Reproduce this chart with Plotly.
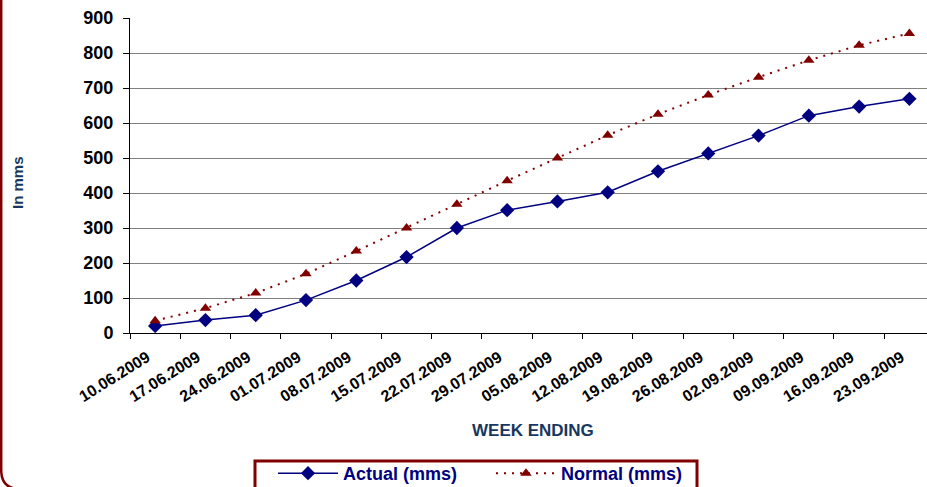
import plotly.graph_objects as go

weeks = ["10.06.2009", "17.06.2009", "24.06.2009", "01.07.2009", "08.07.2009",
         "15.07.2009", "22.07.2009", "29.07.2009", "05.08.2009", "12.08.2009",
         "19.08.2009", "26.08.2009", "02.09.2009", "09.09.2009", "16.09.2009",
         "23.09.2009"]
actual = [20, 37, 51, 94, 150, 217, 300, 351, 376, 402, 462, 513, 564, 621, 647, 669]
normal = [35, 71, 114, 169, 234, 300, 368, 435, 500, 565, 625, 680, 731, 779, 822, 856]
y_ticks = [0, 100, 200, 300, 400, 500, 600, 700, 800, 900]

W, H = 927, 487
L, R, T, B = 130, 0, 18, 154
PW, PH = W - L - R, H - T - B

def px(x):
    return (x - L) / PW

def py(y):
    return (H - B - y) / PH

FONT = "Liberation Sans, Arial, sans-serif"

fig = go.Figure()
fig.add_trace(go.Scatter(
    x=weeks, y=actual, name="Actual (mms)", mode="lines+markers",
    line=dict(color="#000080", width=1.5),
    marker=dict(symbol="diamond", size=11, color="#000080"),
))
fig.add_trace(go.Scatter(
    x=weeks, y=normal, name="Normal (mms)", mode="lines+markers",
    line=dict(color="#800000", width=2, dash="2px,6px"),
    marker=dict(symbol="triangle-up", size=10, color="#800000"),
))

fig.update_layout(
    width=W, height=H,
    margin=dict(l=L, r=R, t=T, b=B, autoexpand=False),
    paper_bgcolor="white", plot_bgcolor="white",
    font=dict(family=FONT, size=16, color="black", weight="bold"),
    showlegend=True,
    legend=dict(
        orientation="h", x=px(273), y=py(455), xanchor="left", yanchor="top",
        font=dict(family=FONT, size=18, color="#000080", weight="bold"),
        bgcolor="rgba(0,0,0,0)", borderwidth=0,
        itemwidth=60, entrywidth=143, tracegroupgap=0,
    ),
    xaxis=dict(
        type="category", range=[-0.5, 15.35], tickson="boundaries",
        ticks="outside", ticklen=5, tickcolor="black",
        showline=True, linecolor="black", linewidth=1,
        showgrid=False, tickangle=-32,
        ticklabelshift=-8, ticklabelstandoff=8,
        tickfont=dict(family=FONT, size=16, color="black", weight="bold"),
    ),
    yaxis=dict(
        range=[0, 900], tickvals=y_ticks, ticktext=[str(v) for v in y_ticks],
        ticks="outside", ticklen=6, tickcolor="black",
        showline=True, linecolor="black", linewidth=1,
        showgrid=True, gridcolor="#808080", gridwidth=1,
        zeroline=False, ticklabelstandoff=6,
        tickfont=dict(family=FONT, size=18, color="black", weight="bold"),
    ),
    annotations=[
        dict(text="In mms", x=px(17), y=py(183), xref="paper", yref="paper",
             xanchor="center", yanchor="middle",
             textangle=-90, showarrow=False,
             font=dict(family=FONT, size=15, color="#17375E", weight="bold")),
        dict(text="WEEK ENDING", x=px(533), y=py(430), xref="paper", yref="paper",
             xanchor="center", yanchor="middle", showarrow=False,
             font=dict(family=FONT, size=17, color="#17375E", weight="bold")),
    ],
    shapes=[
        dict(type="path", xref="paper", yref="paper",
             path=(f"M {px(1.2)},{py(-10)} L {px(1.2)},{py(470)} "
                   f"Q {px(1.2)},{py(489)} {px(20)},{py(489)} L {px(940)},{py(489)}"),
             line=dict(color="#800000", width=2.5)),
        dict(type="rect", xref="paper", yref="paper",
             x0=px(255), x1=px(697), y0=py(461), y1=py(500),
             line=dict(color="#800000", width=3), fillcolor="white", layer="above"),
    ],
)

fig.write_html("out.html", config={"displayModeBar": False},
               post_script="document.body.style.margin='0px';")
